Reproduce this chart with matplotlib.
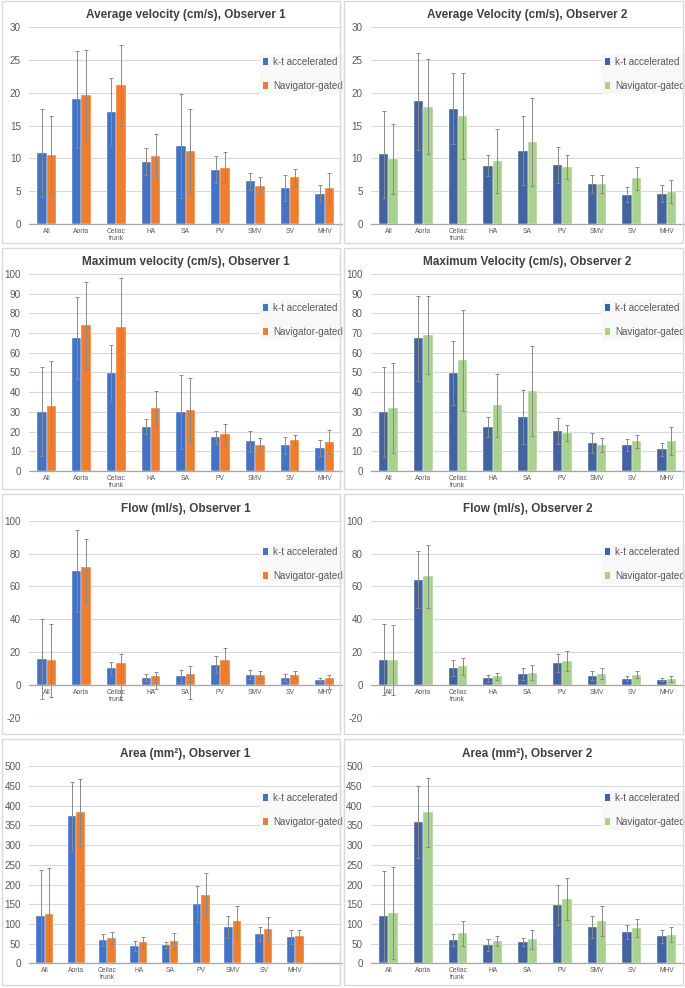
import matplotlib
matplotlib.use("Agg")
import matplotlib.pyplot as plt
from matplotlib.patches import Patch, Rectangle
import numpy as np

plt.rcParams['font.family'] = ['Liberation Sans', 'DejaVu Sans']
plt.rcParams['axes.unicode_minus'] = False

categories = ['All', 'Aorta', 'Celiac\ntrunk', 'HA', 'SA', 'PV', 'SMV', 'SV', 'MHV']
series_names = ['k-t accelerated', 'Navigator-gated']

avg1_kt = [10.8, 19.0, 17.1, 9.5, 11.9, 8.3, 6.5, 5.5, 4.65]
avg1_kt_sd = [6.7, 7.4, 5.2, 2.1, 7.9, 2.0, 1.3, 1.95, 1.35]
avg1_nav = [10.5, 19.7, 21.15, 10.3, 11.15, 8.6, 5.8, 7.1, 5.55]
avg1_nav_sd = [6.0, 6.8, 6.15, 3.45, 6.4, 2.4, 1.4, 1.3, 2.3]

avg2_kt = [10.6, 18.7, 17.6, 8.9, 11.2, 9.0, 6.1, 4.45, 4.6]
avg2_kt_sd = [6.6, 7.4, 5.4, 1.65, 5.3, 2.7, 1.3, 1.15, 1.3]
avg2_nav = [9.9, 17.9, 16.5, 9.65, 12.45, 8.7, 6.1, 7.0, 4.9]
avg2_nav_sd = [5.3, 7.2, 6.6, 4.85, 6.7, 1.8, 1.3, 1.75, 1.75]

max1_kt = [30.2, 67.5, 49.5, 22.5, 29.8, 17.1, 15.1, 13.05, 11.7]
max1_kt_sd = [22.4, 20.8, 14.6, 3.8, 18.8, 3.4, 5.4, 4.4, 4.1]
max1_nav = [33.05, 74.1, 72.9, 32.2, 31.0, 18.8, 13.05, 15.6, 14.75]
max1_nav_sd = [22.7, 21.8, 25.0, 8.6, 16.1, 5.3, 3.7, 2.9, 6.1]

max2_kt = [30.1, 67.3, 49.7, 22.5, 27.3, 20.3, 14.2, 13.2, 11.0]
max2_kt_sd = [22.9, 21.7, 16.4, 5.1, 13.6, 6.8, 5.3, 3.1, 3.4]
max2_nav = [32.0, 69.0, 56.3, 33.3, 40.5, 19.3, 13.2, 15.1, 15.4]
max2_nav_sd = [22.7, 20.0, 25.6, 16.0, 22.9, 4.1, 3.6, 3.2, 7.1]

flow1_kt = [15.85, 69.3, 10.2, 4.3, 5.5, 12.4, 6.3, 4.3, 3.05]
flow1_kt_sd = [24.4, 25.0, 4.0, 2.2, 3.85, 5.1, 2.7, 2.2, 1.0]
flow1_nav = [15.0, 71.7, 13.4, 5.7, 6.5, 15.0, 6.3, 6.3, 3.9]
flow1_nav_sd_lo = [22.3, 21.5, 22.7, 8.3, 15.4, 5.3, 2.6, 2.6, 6.5]
flow1_nav_sd_hi = [22.0, 17.3, 5.7, 2.4, 4.9, 7.4, 2.4, 2.4, 2.4]

flow2_kt = [15.4, 64.0, 10.4, 4.1, 6.5, 13.2, 5.7, 3.7, 3.25]
flow2_kt_sd = [21.6, 17.3, 4.8, 2.2, 3.5, 5.3, 2.8, 1.4, 1.0]
flow2_nav = [15.0, 66.1, 11.2, 5.1, 7.3, 14.6, 6.7, 6.3, 3.7]
flow2_nav_sd = [21.2, 19.1, 4.9, 2.4, 4.5, 6.3, 3.3, 2.4, 1.8]

area1_kt = [120, 373, 59, 44, 46, 150, 93, 74.5, 67]
area1_kt_sd = [117, 88, 16, 13.5, 7, 46, 28, 18.5, 18.5]
area1_nav = [124, 383, 64, 53, 57.5, 172.6, 108, 88, 69]
area1_nav_sd = [119, 86, 15, 15, 20.5, 56, 38, 29, 16.5]

area2_kt = [120, 358, 59, 46.5, 54, 148, 93, 79, 68.5]
area2_kt_sd = [113, 91, 15, 15, 10, 52, 28, 18, 16]
area2_nav = [128, 383, 76, 56, 61, 163, 106.6, 89, 72]
area2_nav_sd = [116, 88, 31, 13, 24, 53, 38, 23, 19]

titles = ['Average velocity (cm/s), Observer 1', 'Average Velocity (cm/s), Observer 2',
          'Maximum velocity (cm/s), Observer 1', 'Maximum Velocity (cm/s), Observer 2',
          'Flow (ml/s), Observer 1', 'Flow (ml/s), Observer 2',
          'Area (mm\u00b2), Observer 1', 'Area (mm\u00b2), Observer 2']

colors_left = ['#4472C4', '#ED7D31']
colors_right = ['#4262A0', '#A9D18E']

W, H = 685, 988
fig = plt.figure(figsize=(W / 100, H / 100), dpi=100)
fig.patch.set_facecolor('white')


def px_rect(x0, y0, x1, y1):
    return [x0 / W, 1 - y1 / H, (x1 - x0) / W, (y1 - y0) / H]


# panel borders
col_x = [(2, 340), (344, 683)]
row_y = [(1, 243), (248, 489), (494, 734), (739, 985)]
for (ry0, ry1) in row_y:
    for (cx0, cx1) in col_x:
        fig.add_artist(Rectangle((cx0 / W, 1 - ry1 / H), (cx1 - cx0) / W, (ry1 - ry0) / H,
                                 transform=fig.transFigure, facecolor='none',
                                 edgecolor='#D9D9D9', lw=1.0))

ax_x = [(29.3, 342), (371, 684)]
ax_y = [(27.3, 224), (274, 471), (520.7, 717.7), (766.3, 963.3)]
legend_y = [54, 300, 544, 790]
legend_x = [260, 602]

panels = [
    (avg1_kt, avg1_kt_sd, avg1_kt_sd, avg1_nav, avg1_nav_sd, avg1_nav_sd, (0, 30), 5, 9),
    (avg2_kt, avg2_kt_sd, avg2_kt_sd, avg2_nav, avg2_nav_sd, avg2_nav_sd, (0, 30), 5, 9),
    (max1_kt, max1_kt_sd, max1_kt_sd, max1_nav, max1_nav_sd, max1_nav_sd, (0, 100), 10, 9),
    (max2_kt, max2_kt_sd, max2_kt_sd, max2_nav, max2_nav_sd, max2_nav_sd, (0, 100), 10, 9),
    (flow1_kt, flow1_kt_sd, flow1_kt_sd, flow1_nav, flow1_nav_sd_lo, flow1_nav_sd_hi, (-20, 100), 20, 9),
    (flow2_kt, flow2_kt_sd, flow2_kt_sd, flow2_nav, flow2_nav_sd, flow2_nav_sd, (-20, 100), 20, 9),
    (area1_kt, area1_kt_sd, area1_kt_sd, area1_nav, area1_nav_sd, area1_nav_sd, (0, 500), 50, 10),
    (area2_kt, area2_kt_sd, area2_kt_sd, area2_nav, area2_nav_sd, area2_nav_sd, (0, 500), 50, 9),
]

bw = 0.27
for i, (kt, kt_lo, kt_hi, nav, nav_lo, nav_hi, ylim, step, nslots) in enumerate(panels):
    r, c = divmod(i, 2)
    x0, x1 = ax_x[c]
    y0, y1 = ax_y[r]
    ax = fig.add_axes(px_rect(x0, y0, x1, y1))
    for s in ['top', 'right', 'left']:
        ax.spines[s].set_visible(False)
    if ylim[0] < 0:
        ax.spines['bottom'].set_position(('data', 0))
    ax.spines['bottom'].set_color('#A6A6A6')
    ax.spines['bottom'].set_linewidth(0.9)
    ax.spines['bottom'].set_zorder(4)

    cols = colors_left if c == 0 else colors_right
    x = np.arange(len(categories))
    ax.bar(x - bw / 2, kt, bw, color=cols[0], edgecolor='#ffffff', linewidth=0.3, zorder=2)
    ax.bar(x + bw / 2, nav, bw, color=cols[1], edgecolor='#ffffff', linewidth=0.3, zorder=2)
    ax.errorbar(x - bw / 2, kt, yerr=[kt_lo, kt_hi], fmt='none', ecolor='#8a8a8a',
                elinewidth=0.7, capsize=1.3, capthick=0.7, zorder=3)
    ax.errorbar(x + bw / 2, nav, yerr=[nav_lo, nav_hi], fmt='none', ecolor='#8a8a8a',
                elinewidth=0.7, capsize=1.3, capthick=0.7, zorder=3)
    ax.set_xlim(-0.5, nslots - 0.5)
    ax.set_ylim(*ylim)
    ax.set_yticks(np.arange(ylim[0], ylim[1] + step / 2, step))
    ax.set_xticks(x)
    ax.set_xticklabels(categories, fontsize=4.9, color='#595959', linespacing=1.0)
    ax.tick_params(axis='y', labelsize=7.1, labelcolor='#595959', length=0, pad=6)
    ax.tick_params(axis='x', length=0, pad=3)
    ax.yaxis.grid(True, color='#D9D9D9', lw=0.8, zorder=0)
    ax.set_axisbelow(True)

    ax.annotate(titles[i], xy=(0.5, 1), xycoords='axes fraction', xytext=(0, 8.6),
                textcoords='offset points', ha='center', va='center',
                fontsize=8.5, fontweight='bold', color='#404040')
    handles = [Patch(facecolor=cols[0], edgecolor='none'), Patch(facecolor=cols[1], edgecolor='none')]
    leg = ax.legend(handles, series_names, loc='upper left',
                    bbox_to_anchor=(legend_x[c] / W, 1 - legend_y[r] / H),
                    bbox_transform=fig.transFigure, fontsize=7.1, frameon=True,
                    facecolor='#F8F8F8', edgecolor='none', framealpha=1, fancybox=False,
                    handlelength=0.55, handleheight=0.75, handletextpad=0.5,
                    labelspacing=1.45, borderpad=0.3, borderaxespad=0)
    for t in leg.get_texts():
        t.set_color('#595959')
    leg.set_zorder(5)

fig.savefig('out.png', dpi=100, facecolor='white')
